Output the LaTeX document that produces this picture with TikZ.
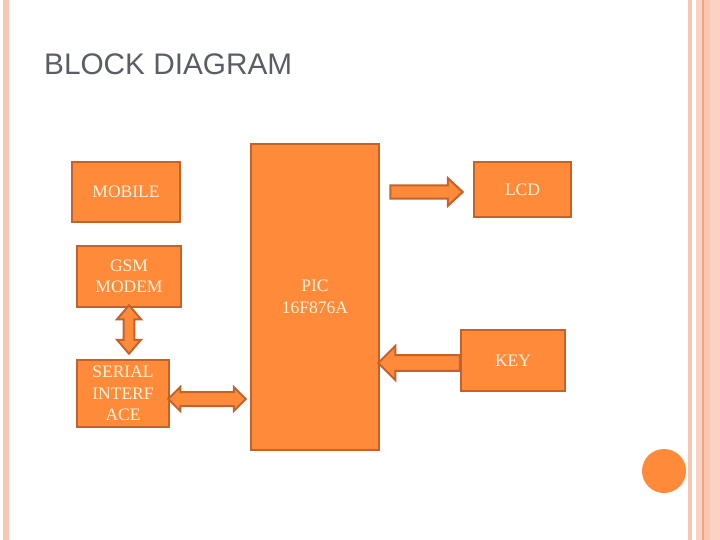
\documentclass[tikz,border=0pt]{standalone}
\usepackage{fontspec}
\setmainfont{Liberation Serif}
\newfontfamily\titlefont{Liberation Sans}
\usetikzlibrary{calc}
\definecolor{boxfill}{HTML}{FF8B3A}
\definecolor{boxline}{HTML}{C4622B}
\definecolor{boxtext}{HTML}{FFF4DE}
\definecolor{titlegray}{HTML}{595E66}
\definecolor{stripe}{HTML}{FAC6B3}
\definecolor{stripelight}{HTML}{FCD2C2}
\definecolor{stripedark}{HTML}{F2A47E}
\tikzset{
  block/.style={draw=boxline, fill=boxfill, line width=2.5pt, text=boxtext,
    align=center, inner sep=0pt, font=\fontsize{17.5}{21.5}\selectfont},
  fatarrow/.style={draw=boxline, fill=boxfill, line width=2pt, line join=miter}
}
% block arrow: from, to, half shaft, half head, head length
\newcommand{\onearrow}[5]{
  \coordinate (hb) at ($(#2)!#5!(#1)$);
  \draw[fatarrow] ($(#1)!#3!90:(#2)$) -- ($(hb)!#3!90:(#2)$) -- ($(hb)!#4!90:(#2)$)
    -- (#2) -- ($(hb)!#4!-90:(#2)$) -- ($(hb)!#3!-90:(#2)$) -- ($(#1)!#3!-90:(#2)$) -- cycle;}
\newcommand{\twoarrow}[5]{
  \coordinate (ha) at ($(#1)!#5!(#2)$);
  \coordinate (hb) at ($(#2)!#5!(#1)$);
  \draw[fatarrow] (#1) -- ($(ha)!#4!90:(#2)$) -- ($(ha)!#3!90:(#2)$) -- ($(hb)!#3!90:(#2)$)
    -- ($(hb)!#4!90:(#2)$) -- (#2) -- ($(hb)!#4!-90:(#2)$) -- ($(hb)!#3!-90:(#2)$)
    -- ($(ha)!#3!-90:(#2)$) -- ($(ha)!#4!-90:(#2)$) -- cycle;}

\begin{document}
\begin{tikzpicture}[x=1pt, y=-1pt]
    \useasboundingbox (0,0) rectangle (720,540);

    % page stripes
    \fill[stripe] (3,0) rectangle (9,540);
    \fill[stripe] (688,0) rectangle (692,540);
    \fill[stripelight] (696,0) rectangle (702,540);
    \fill[stripedark] (702,0) rectangle (703.5,540);
    \fill[stripe] (703.5,0) rectangle (710,540);
    \fill[stripelight] (710,0) rectangle (720,540);

    % title
    \node[anchor=base west, inner sep=0pt, text=titlegray, font=\titlefont\fontsize{29.75}{32}\selectfont]
        (title) at (44,75) {BLOCK DIAGRAM};

    % blocks
    \node[block, minimum width=128pt, minimum height=306pt] (pic) at (315,297) {PIC\\16F876A};
    \node[block, minimum width=108pt, minimum height=60pt] (mobile) at (126,192) {MOBILE};
    \node[block, minimum width=104pt, minimum height=61pt] (gsm) at (129,276.5) {GSM\\MODEM};
    \node[block, minimum width=92pt, minimum height=67pt] (serial) at (123,393.5) {SERIAL\\INTERF\\ACE};
    \node[block, minimum width=97pt, minimum height=55pt] (lcd) at (522.5,189.5) {LCD};
    \node[block, minimum width=104pt, minimum height=61pt] (key) at (513,360.5) {KEY};

    % arrows
    \coordinate (lcdA) at ($(pic.east |- lcd.west)+(10,2.5)$);
    \coordinate (lcdB) at ($(lcd.west)+(-10,2.5)$);
    \coordinate (keyA) at ($(key.west)+(0,2.5)$);
    \coordinate (keyB) at ($(pic.east |- key.west)+(-2,2.5)$);
    \coordinate (gsmA) at ($(gsm.south)+(0,-3)$);
    \coordinate (gsmB) at ($(gsm.south |- serial.north)+(0,-5)$);
    \coordinate (serA) at ($(serial.east)+(-2,5.5)$);
    \coordinate (serB) at ($(pic.west |- serial.east)+(-4,5.5)$);
    \onearrow{lcdA}{lcdB}{6.7pt}{14pt}{15pt}
    \onearrow{keyA}{keyB}{7.8pt}{17pt}{17pt}
    \twoarrow{gsmA}{gsmB}{5.3pt}{12pt}{14pt}
    \twoarrow{serA}{serB}{7pt}{12pt}{12pt}

    % dot
    \fill[boxfill] (664,471) circle (22pt);
\end{tikzpicture}
\end{document}
